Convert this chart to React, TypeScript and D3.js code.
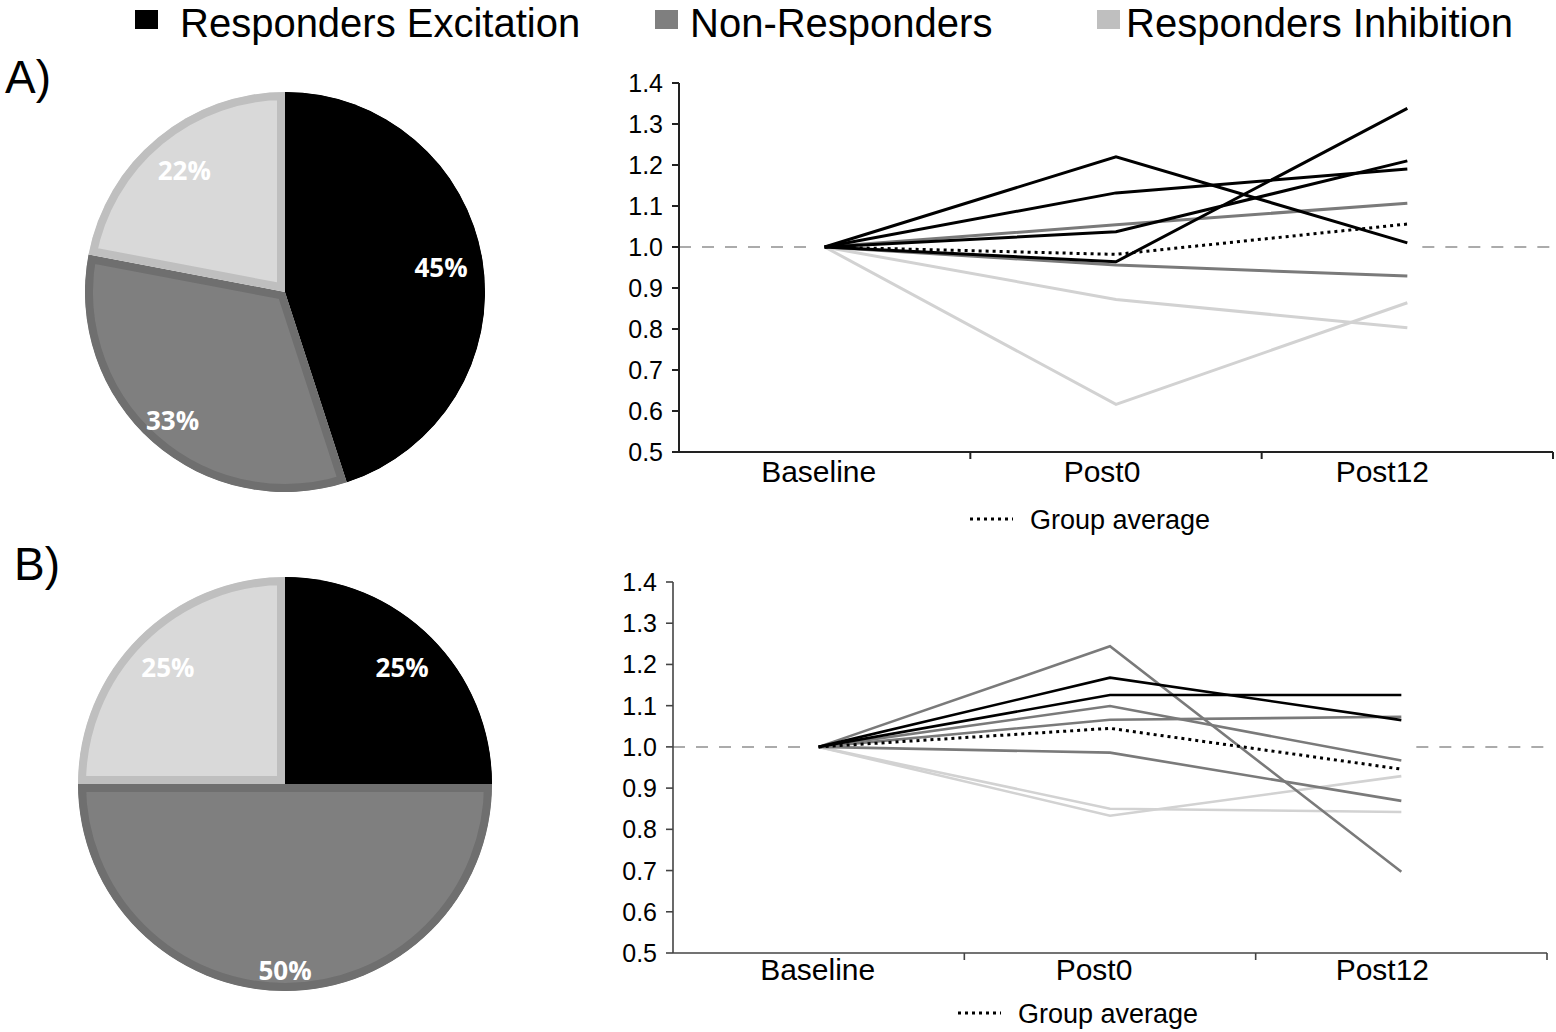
import React from "react";
import * as d3 from "d3";

// ---------- data ----------
const legendLabels = ["Responders Excitation", "Non-Responders", "Responders Inhibition"];
const categories = ["Baseline", "Post0", "Post12"];
const yTicks = [0.5, 0.6, 0.7, 0.8, 0.9, 1.0, 1.1, 1.2, 1.3, 1.4];

const pieAValues = [45, 33, 22];
const pieBValues = [25, 50, 25];

const panelAExcitation = [
  [1, 1.22, 1.01],
  [1, 1.132, 1.19],
  [1, 1.037, 1.21],
  [1, 0.964, 1.338],
];
const panelANon = [
  [1, 1.054, 1.107],
  [1, 0.956, 0.929],
];
const panelAInhib = [
  [1, 0.872, 0.803],
  [1, 0.616, 0.864],
];
const panelAAverage = [1, 0.982, 1.056];

const panelBExcitation = [
  [1, 1.168, 1.065],
  [1, 1.126, 1.126],
];
const panelBNon = [
  [1, 1.244, 0.697],
  [1, 1.099, 0.967],
  [1, 1.066, 1.073],
  [1, 0.986, 0.869],
];
const panelBInhib = [
  [1, 0.85, 0.842],
  [1, 0.833, 0.929],
];
const panelBAverage = [1, 1.045, 0.946];

// ---------- styles ----------
const SANS = "'Liberation Sans', Arial, Helvetica, sans-serif";
const PIE_FONT = "'Open Sans', 'Noto Sans', sans-serif";
const sliceFill = ["#000000", "#7f7f7f", "#d9d9d9"];
const sliceBorder = ["#000000", "#6f6f6f", "#bfbfbf"];
const legendSwatch = ["#000000", "#7f7f7f", "#bfbfbf"];
const lineColor = ["#000000", "#7a7a7a", "#d2d2d2"];

function Pie({ id, values, cx, cy, r, labelFactors }) {
  const arcs = d3.pie<number>().sort(null).value((d) => d)(values);
  const arcGen = d3.arc<any>().innerRadius(0).outerRadius(r);
  return (
    <g transform={`translate(${cx},${cy})`}>
      <defs>
        {arcs.map((a, i) => (
          <clipPath id={`${id}-clip-${i}`} key={i}>
            <path d={arcGen(a) || ""} />
          </clipPath>
        ))}
      </defs>
      {arcs.map((a, i) => (
        <path
          key={i}
          d={arcGen(a) || ""}
          fill={sliceFill[i]}
          stroke={sliceBorder[i]}
          strokeWidth={16}
          clipPath={`url(#${id}-clip-${i})`}
        />
      ))}
      {arcs.map((a, i) => {
        const lr = r * labelFactors[i];
        const c = d3.arc<any>().innerRadius(lr).outerRadius(lr).centroid(a);
        return (
          <text
            key={i}
            x={c[0]}
            y={c[1]}
            textAnchor="middle"
            dominantBaseline="central"
            fill="#ffffff"
            fontFamily={PIE_FONT}
            fontWeight={700}
            fontSize={26}
          >
            {`${values[i]}%`}
          </text>
        );
      })}
    </g>
  );
}

function LinePanel({ x0, x1, yTop, yBottom, groups, average, labelShift, labelBaseline, avgLegend, axisColor, axisWidth, lineWidth }) {
  const x = d3.scaleBand<string>().domain(categories).range([x0, x1]).paddingInner(0).paddingOuter(0);
  const y = d3.scaleLinear().domain([0.5, 1.4]).range([yBottom, yTop]);
  const cx = (c: string) => (x(c) as number) + x.bandwidth() / 2;
  const line = d3
    .line<number>()
    .x((_, i) => cx(categories[i]))
    .y((d) => y(d));
  const boundaries = categories.map((c) => (x(c) as number) + x.bandwidth());
  const lastX = cx(categories[categories.length - 1]);
  return (
    <g>
      {/* reference dashed line at 1.0 */}
      <line x1={x0} x2={cx(categories[0]) - 8} y1={y(1)} y2={y(1)} stroke="#ababab" strokeWidth={2} strokeDasharray="12,11" />
      <line x1={lastX + 15} x2={x1} y1={y(1)} y2={y(1)} stroke="#ababab" strokeWidth={2} strokeDasharray="12,11" />
      {/* series: inhibition, non, excitation */}
      {[2, 1, 0].map((g) =>
        groups[g].map((s: number[], k: number) => (
          <path key={`${g}-${k}`} d={line(s) || ""} fill="none" stroke={lineColor[g]} strokeWidth={lineWidth} strokeLinejoin="miter" />
        ))
      )}
      <path d={line(average) || ""} fill="none" stroke="#000" strokeWidth={3} strokeDasharray="3,4" />
      {/* axes */}
      <line x1={x0} x2={x0} y1={y(1.4)} y2={y(0.5)} stroke={axisColor} strokeWidth={axisWidth} />
      <line x1={x0} x2={x1} y1={y(0.5)} y2={y(0.5)} stroke={axisColor} strokeWidth={axisWidth} />
      {yTicks.map((t) => (
        <g key={t}>
          <line x1={x0 - 7} x2={x0} y1={y(t)} y2={y(t)} stroke={axisColor} strokeWidth={axisWidth} />
          <text x={x0 - 16} y={y(t)} textAnchor="end" dominantBaseline="central" fontFamily={SANS} fontSize={25} fill="#000">
            {t.toFixed(1)}
          </text>
        </g>
      ))}
      {boundaries.map((b, i) => (
        <line key={i} x1={b} x2={b} y1={y(0.5)} y2={y(0.5) + 7} stroke={axisColor} strokeWidth={axisWidth} />
      ))}
      {categories.map((c, i) => (
        <text key={c} x={cx(c) + labelShift[i]} y={labelBaseline} textAnchor="middle" fontFamily={SANS} fontSize={30} fill="#000">
          {c}
        </text>
      ))}
      {/* group average legend */}
      <line x1={avgLegend.x} x2={avgLegend.x + 43} y1={avgLegend.y} y2={avgLegend.y} stroke="#000" strokeWidth={3} strokeDasharray="3,4" />
      <text x={avgLegend.x + 60} y={avgLegend.y + 10} fontFamily={SANS} fontSize={27} fill="#000">
        Group average
      </text>
    </g>
  );
}

export default function App() {
  const legendPos = [
    { sx: 135, tx: 180 },
    { sx: 655, tx: 690 },
    { sx: 1097, tx: 1126 },
  ];
  return (
    <svg width={1556} height={1032} style={{ position: "absolute", left: 0, top: 0, background: "#fff" }}>
      <rect width={1556} height={1032} fill="#fff" />
      {/* legend */}
      {legendLabels.map((l, i) => (
        <g key={l}>
          <rect x={legendPos[i].sx} y={10} width={23} height={19} fill={legendSwatch[i]} />
          <text x={legendPos[i].tx} y={36.5} fontFamily={SANS} fontSize={40} fill="#000">
            {l}
          </text>
        </g>
      ))}
      <text x={5} y={93} fontFamily={SANS} fontSize={46} fill="#000">A)</text>
      <text x={14} y={580} fontFamily={SANS} fontSize={46} fill="#000">B)</text>

      <Pie id="pieA" values={pieAValues} cx={285} cy={292} r={200} labelFactors={[0.79, 0.85, 0.79]} />
      <Pie id="pieB" values={pieBValues} cx={285} cy={784} r={207} labelFactors={[0.8, 0.9, 0.8]} />

      <LinePanel
        x0={679}
        x1={1553}
        yTop={83}
        yBottom={452}
        groups={[panelAExcitation, panelANon, panelAInhib]}
        average={panelAAverage}
        labelShift={[-6, -14, -25]}
        labelBaseline={482}
        avgLegend={{ x: 970, y: 519 }}
        axisColor="#222"
        axisWidth={2}
        lineWidth={3}
      />
      <LinePanel
        x0={673}
        x1={1547}
        yTop={582}
        yBottom={953}
        groups={[panelBExcitation, panelBNon, panelBInhib]}
        average={panelBAverage}
        labelShift={[-1, -16, -19]}
        labelBaseline={980}
        avgLegend={{ x: 958, y: 1013 }}
        axisColor="#444"
        axisWidth={1.6}
        lineWidth={2.6}
      />
    </svg>
  );
}
